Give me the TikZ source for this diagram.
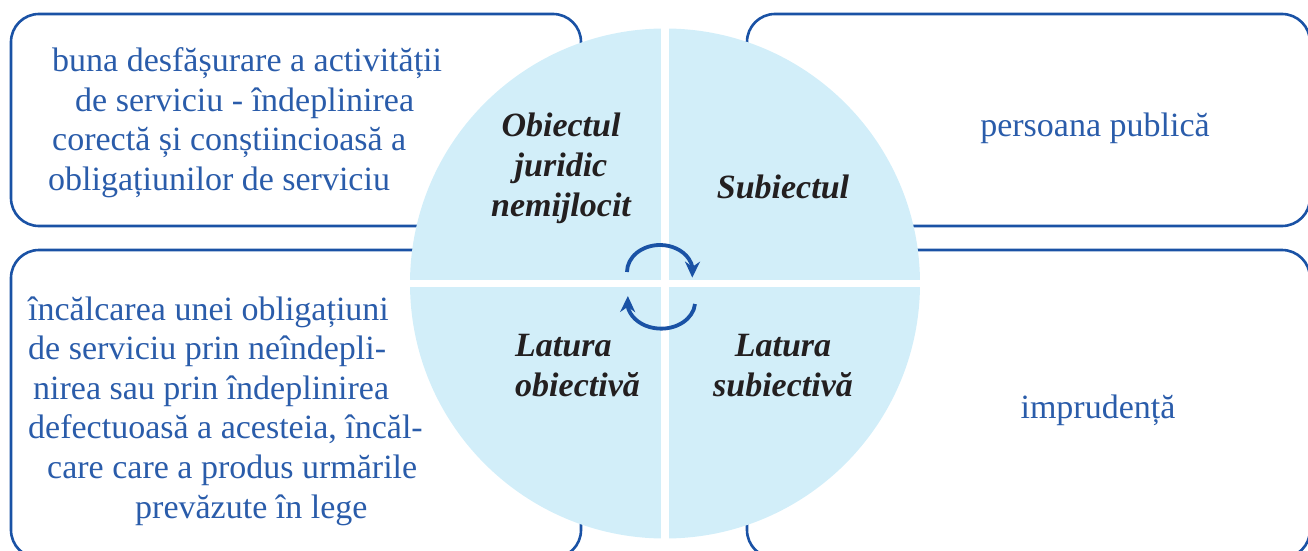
\documentclass[tikz,border=0pt]{standalone}
\usepackage{fontspec}
\setmainfont{Liberation Serif}
\usetikzlibrary{arrows.meta,bending}
\definecolor{boxline}{HTML}{1A52A5}
\definecolor{txtblue}{HTML}{2A5CAA}
\definecolor{circfill}{HTML}{D2EEF9}
\definecolor{darktxt}{HTML}{231F20}
\begin{document}
\begin{tikzpicture}[x=1pt,y=-1pt,
  roundbox/.style={draw=boxline, line width=2.6pt, rounded corners=28pt},
  bluetext/.style={text=txtblue, font=\fontsize{34}{39.6}\selectfont, inner sep=0pt},
  lbl/.style={text=darktxt, font=\fontsize{34}{40}\selectfont\bfseries\itshape, inner sep=0pt},
  cyc/.style={draw=boxline, line width=3.8pt, -{Stealth[length=16pt,width=15pt,flex]}}]
\useasboundingbox (0,0) rectangle (1308,551);
\begin{scope}
\clip (0,0) rectangle (1308,551);
% boxes
\draw[roundbox] (11,14) rectangle (581,226);
\draw[roundbox] (747,14) rectangle (1310,226);
\draw[roundbox] (11,250) rectangle (581,558);
\draw[roundbox] (747,250) rectangle (1310,558);
% circle
\fill[circfill] (665,283.5) circle[radius=255pt];
\fill[white] (661,25) rectangle (669,545);
\fill[white] (405,280) rectangle (925,287);
\end{scope}
% cycle arrows
\coordinate (a1) at (627,272);
\coordinate (a2) at (695,304);
\draw[cyc] (a1) arc[start angle=180, end angle=-12, x radius=33pt, y radius=27pt];
\draw[cyc] (a2) arc[start angle=-5, end angle=-192, x radius=34pt, y radius=27pt];
% texts
\node[bluetext, align=left, anchor=west] (objtext) at (48,122.5)
  {\hspace*{4pt}buna desfășurare a activității\\\hspace*{27pt}de serviciu - îndeplinirea\\\hspace*{4pt}corectă și conștiincioasă a\\obligațiunilor de serviciu};
\node[bluetext, align=left, anchor=west] (lattext) at (28,411)
  {încălcarea unei obligațiuni\\de serviciu prin neîndepli-\\\hspace*{5pt}nirea sau prin îndeplinirea\\defectuoasă a acesteia, încăl-\\\hspace*{19pt}care care a produs urmările\\\hspace*{107pt}prevăzute în lege};
\node[bluetext] (pers) at (1095,128) {persoana publică};
\node[bluetext] (impr) at (1098,410) {imprudență};
\node[lbl, align=center] (obj) at (561,168.5) {Obiectul\\juridic\\nemijlocit};
\node[lbl] (subj) at (783,187) {Subiectul};
\node[lbl, align=left, anchor=west] (latob) at (515,366) {Latura\\obiectivă};
\node[lbl, align=center] (latsub) at (783,366) {Latura\\subiectivă};
\end{tikzpicture}
\end{document}
